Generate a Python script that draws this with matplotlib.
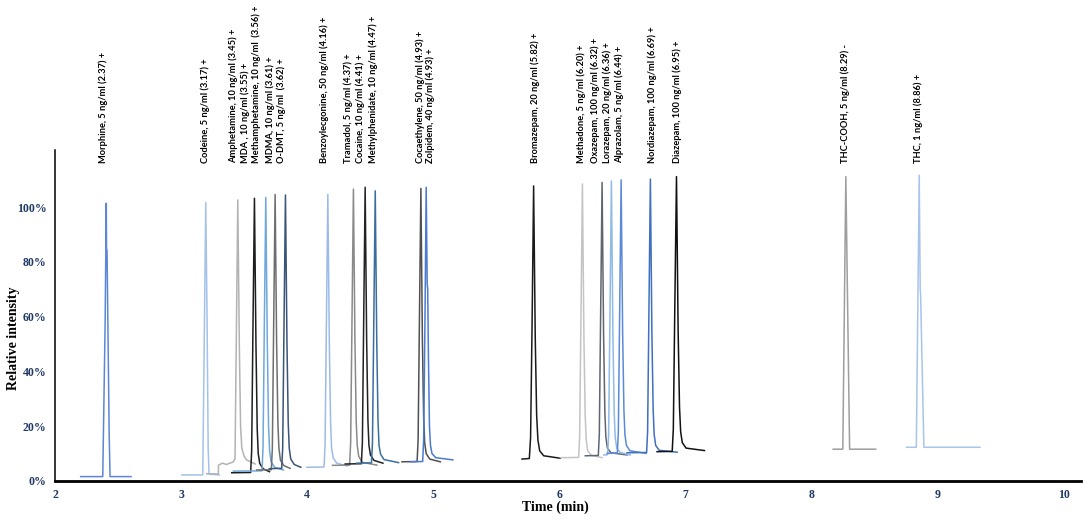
import numpy as np
import matplotlib
matplotlib.use("Agg")
import matplotlib.pyplot as plt
from matplotlib.ticker import FuncFormatter

# Compound labels (name, conc, retention time, polarity)
labels = ["Morphine, 5 ng/ml (2.37) +",
          "Codeine, 5 ng/ml (3.17) +",
          "Amphetamine, 10 ng/ml (3.45) +",
          "MDA , 10 ng/ml (3.55) +",
          "Methamphetamine, 10 ng/ml  (3.56) +",
          "MDMA, 10 ng/ml (3.61) +",
          "O-DMT, 5 ng/ml  (3.62) +",
          "Benzoylecgonine, 50 ng/ml (4.16) +",
          "Tramadol, 5 ng/ml (4.37) +",
          "Cocaine, 10 ng/ml (4.41) +",
          "Methylphenidate, 10 ng/ml (4.47) +",
          "Cocaethylene, 50 ng/ml (4.93) +",
          "Zolpidem, 40 ng/ml (4.93) +",
          "Bromazepam, 20 ng/ml (5.82) +",
          "Methadone, 5 ng/ml (6.20) +",
          "Oxazepam, 100 ng/ml (6.32) +",
          "Lorazepam, 20 ng/ml (6.36) +",
          "Alprazolam, 5 ng/ml (6.44) +",
          "Nordiazepam, 100 ng/ml (6.69) +",
          "Diazepam, 100 ng/ml (6.95) +",
          "THC-COOH, 5 ng/ml (8.29) -",
          "THC, 1 ng/ml (8.86) +"]

# Traces: time (min), relative intensity (%)
morphine_t = [2.204, 2.379, 2.398, 2.407, 2.409, 2.413, 2.430, 2.437, 2.603]
morphine_i = [1.6, 1.6, 58, 101.4, 85, 84, 17, 1.6, 1.6]
codeine_t = [3.006, 3.172, 3.186, 3.196, 3.206, 3.215, 3.222, 3.304]
codeine_i = [2.2, 2.2, 60, 101.7, 60, 12, 2.5, 2.2]
amph_t = [3.204, 3.296, 3.297, 3.33, 3.36, 3.39, 3.41, 3.428, 3.440, 3.450,
          3.462, 3.472, 3.482, 3.50, 3.52, 3.587]
amph_i = [2.6, 2.6, 5.8, 6.5, 6.0, 6.6, 6.8, 8, 60, 102.6, 50, 20, 12, 9, 7.7, 6.2]
mda_t = [3.402, 3.552, 3.560, 3.570, 3.582, 3.594, 3.604, 3.612, 3.624, 3.652, 3.701]
mda_i = [3.0, 3.1, 11, 55, 103.2, 50, 19, 10, 6.4, 4.4, 3.4]
meth_t = [3.415, 3.642, 3.650, 3.660, 3.672, 3.684, 3.694, 3.702, 3.714, 3.742, 3.812]
meth_i = [3.6, 3.7, 12, 55, 103.5, 50, 20, 11, 7, 5, 4.0]
mdma_t = [3.600, 3.716, 3.724, 3.734, 3.746, 3.758, 3.768, 3.776, 3.788, 3.816, 3.865]
mdma_i = [4.0, 4.1, 12, 55, 104.6, 50, 21, 12, 7.6, 5.6, 4.6]
odmt_t = [3.700, 3.798, 3.806, 3.816, 3.828, 3.840, 3.850, 3.858, 3.870, 3.898, 3.950]
odmt_i = [4.5, 4.6, 12, 55, 104.4, 50, 21, 12, 8, 6, 5.0]
be_t = [3.998, 4.134, 4.142, 4.152, 4.164, 4.176, 4.186, 4.194, 4.206, 4.234, 4.315]
be_i = [5.0, 5.1, 13, 55, 104.6, 50, 21, 12, 8.5, 6.5, 5.5]
tram_t = [4.201, 4.337, 4.345, 4.355, 4.367, 4.379, 4.389, 4.397, 4.409, 4.437, 4.553]
tram_i = [5.7, 5.8, 14, 56, 106.5, 51, 22, 13, 9, 6.8, 5.8]
coc_t = [4.302, 4.430, 4.438, 4.448, 4.460, 4.472, 4.482, 4.490, 4.502, 4.530, 4.601]
coc_i = [6.2, 6.3, 14, 57, 107.2, 51, 22, 13, 9.5, 7.5, 6.5]
mph_t = [4.394, 4.510, 4.518, 4.528, 4.540, 4.552, 4.562, 4.570, 4.582, 4.610, 4.725]
mph_i = [6.5, 6.6, 14, 56, 105.9, 51, 22, 13, 9.8, 7.8, 6.7]
ce_t = [4.752, 4.872, 4.880, 4.890, 4.902, 4.914, 4.924, 4.932, 4.944, 4.972, 5.056]
ce_i = [7.0, 7.1, 15, 57, 106.8, 51, 23, 14, 10, 8, 7.0]
zol_t = [4.817, 4.916, 4.924, 4.934, 4.944, 4.952, 4.956, 4.962, 4.970, 4.978,
         4.990, 5.020, 5.156]
zol_i = [7.0, 7.1, 15, 57, 107.2, 72, 70, 45, 20, 13, 10, 8.5, 7.7]
brom_t = [5.704, 5.762, 5.772, 5.784, 5.796, 5.809, 5.820, 5.830, 5.844, 5.876, 6.008]
brom_i = [8.0, 8.2, 16, 58, 107.7, 52, 24, 15, 11, 9.2, 8.3]
mtd_t = [6.008, 6.153, 6.161, 6.171, 6.183, 6.195, 6.205, 6.213, 6.225, 6.253, 6.339]
mtd_i = [8.5, 8.6, 16, 58, 108.4, 52, 24, 15, 11, 9.4, 8.5]
oxa_t = [6.206, 6.309, 6.317, 6.327, 6.339, 6.351, 6.361, 6.369, 6.381, 6.409, 6.537]
oxa_i = [9.2, 9.3, 17, 59, 109.0, 53, 25, 16, 12, 10.3, 9.5]
lor_t = [6.352, 6.383, 6.391, 6.401, 6.413, 6.425, 6.435, 6.443, 6.455, 6.483, 6.563]
lor_i = [9.5, 9.6, 17, 59, 109.5, 53, 25, 16, 12, 10.4, 9.5]
alp_t = [6.379, 6.460, 6.468, 6.478, 6.490, 6.502, 6.512, 6.520, 6.532, 6.560, 6.688]
alp_i = [10.1, 10.2, 18, 60, 109.9, 54, 26, 17, 13, 11, 10.1]
nord_t = [6.537, 6.692, 6.700, 6.710, 6.722, 6.734, 6.744, 6.752, 6.764, 6.792, 6.934]
nord_i = [10.3, 10.4, 18, 60, 110.2, 54, 26, 17, 13, 11.2, 10.5]
diaz_t = [6.775, 6.895, 6.904, 6.915, 6.929, 6.942, 6.953, 6.962, 6.975, 7.005, 7.151]
diaz_i = [10.7, 10.8, 19, 61, 111.1, 55, 27, 18, 14, 12, 11.1]
thccooh_t = [8.172, 8.248, 8.272, 8.302, 8.508]
thccooh_i = [11.6, 11.6, 111.1, 11.6, 11.6]
thc_t = [8.754, 8.831, 8.854, 8.862, 8.865, 8.891, 9.336]
thc_i = [12.3, 12.3, 111.6, 70, 68, 12.3, 12.3]

traces = [(morphine_t, morphine_i), (codeine_t, codeine_i), (amph_t, amph_i),
          (mda_t, mda_i), (meth_t, meth_i), (mdma_t, mdma_i), (odmt_t, odmt_i),
          (be_t, be_i), (tram_t, tram_i), (coc_t, coc_i), (mph_t, mph_i),
          (ce_t, ce_i), (zol_t, zol_i), (brom_t, brom_i), (mtd_t, mtd_i),
          (oxa_t, oxa_i), (lor_t, lor_i), (alp_t, alp_i), (nord_t, nord_i),
          (diaz_t, diaz_i), (thccooh_t, thccooh_i), (thc_t, thc_i)]

colors = ["#5b87d6", "#a4c2ea", "#b3b3b3", "#1e1e1e", "#6fa8dc", "#6e6e6e",
          "#3b5479", "#9dbbe8", "#8a8a8a", "#222222", "#3a6e9f", "#505050",
          "#4a7bd0", "#1a1a1a", "#c4c4c4", "#5f6670", "#8fbbe6", "#5a8ad8",
          "#3f6fc0", "#111111", "#9e9e9e", "#a9c4ec"]

# where each label sits along the time axis
label_time = [2.383, 3.190, 3.413, 3.508, 3.595, 3.706, 3.794, 4.135, 4.325,
              4.421, 4.524, 4.897, 4.976, 5.810, 6.175, 6.286, 6.381, 6.476,
              6.738, 6.937, 8.270, 8.849]

fig = plt.figure(figsize=(10.84, 5.24), dpi=100)
ax = fig.add_axes([0.0507, 0.0821, 0.9463, 0.6316])

for (t, i), c in zip(traces, colors):
    ax.plot(t, i, color=c, lw=1.1, solid_joinstyle="round")

for lab, x in zip(labels, label_time):
    ax.text(x, 116, lab, rotation=90, ha="center", va="bottom", fontsize=6.7,
            family="Lato", fontweight="bold", clip_on=False)

ax.set_xlim(2, 10.135)
ax.set_ylim(0, 120.8)
ax.set_xticks(range(2, 11))
ax.set_yticks(range(0, 101, 20))
ax.yaxis.set_major_formatter(FuncFormatter(lambda v, p: "%d%%" % v))

for s in ["top", "right"]:
    ax.spines[s].set_visible(False)
ax.spines["left"].set_linewidth(1.1)
ax.spines["bottom"].set_linewidth(2.0)

ax.tick_params(length=0, pad=6, labelsize=8.5, labelcolor="#1f3864")
for tl in ax.get_xticklabels() + ax.get_yticklabels():
    tl.set_family("Liberation Serif")
    tl.set_fontweight("bold")

ax.set_xlabel("Time (min)", family="Liberation Serif", fontweight="bold", fontsize=10)
ax.set_ylabel("Relative intensity", family="Liberation Serif", fontweight="bold", fontsize=10)
ax.xaxis.set_label_coords(0.488, -0.06)
ax.yaxis.set_label_coords(-0.034, 0.43)

fig.savefig("out.png", dpi=100)
